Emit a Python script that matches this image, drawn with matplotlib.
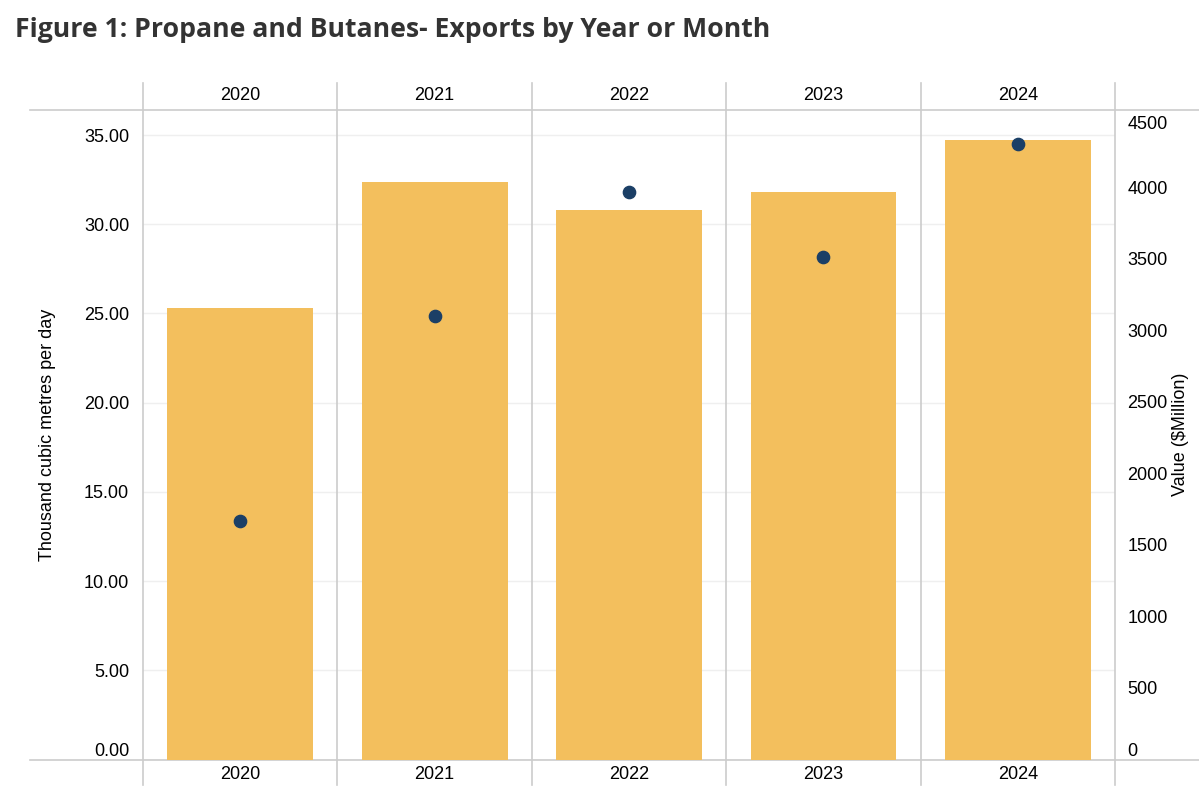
import matplotlib.pyplot as plt
from matplotlib.transforms import blended_transform_factory

# Data
years = ['2020', '2021', '2022', '2023', '2024']
volume = [25.32, 32.39, 30.82, 31.79, 34.72]      # thousand m3/day (bars)
value = [1670, 3104, 3966, 3514, 4306]            # $Million (dots)
left_ticks = [0, 5, 10, 15, 20, 25, 30, 35]
right_ticks = [0, 500, 1000, 1500, 2000, 2500, 3000, 3500, 4000, 4500]

bar_color = '#F3BF5D'
dot_color = '#1B3F66'
line_color = '#CCCCCC'

plt.rcParams['font.family'] = ['Liberation Sans', 'DejaVu Sans']

fig = plt.figure(figsize=(11.99, 7.96), dpi=100)
ax = fig.add_axes([143 / 1199, 1 - 759.5 / 796, 972 / 1199, 650 / 796])

x = list(range(len(years)))
ax.bar(x, volume, width=0.75, color=bar_color, zorder=2)
ax.set_xlim(-0.5, len(years) - 0.5)
ax.set_ylim(0, 36.43)
ax.set_yticks(left_ticks)
ax.set_yticklabels([f'{t:.2f}' for t in left_ticks])
ax.set_xticks([])
ax.tick_params(axis='y', length=0, pad=10, labelsize=13)
ax.grid(axis='y', color='#EFEFEF', linewidth=1, zorder=0)
ax.set_axisbelow(True)
for s in ax.spines.values():
    s.set_visible(False)
ax.set_ylabel('Thousand cubic metres per day', fontsize=13, labelpad=20)

ax2 = ax.twinx()
ax2.scatter(x, value, s=78, color=dot_color, zorder=3)
ax2.set_ylim(0, 4545)
ax2.set_yticks(right_ticks)
ax2.tick_params(axis='y', length=0, pad=9, labelsize=13)
for s in ax2.spines.values():
    s.set_visible(False)
ax2.set_ylabel('Value ($Million)', fontsize=13, labelpad=3)

# keep edge labels inside the plot like the original
fig.canvas.draw()
ax.get_yticklabels()[0].set_va('bottom')
ax2.get_yticklabels()[0].set_va('bottom')
ax2.get_yticklabels()[-1].set_va('top')

# column dividers and header/footer rules
for b in [i - 0.5 for i in range(len(years) + 1)]:
    ax.axvline(b, ymin=-0.039, ymax=1.041, color=line_color, linewidth=1.2,
               clip_on=False, zorder=1)
for yy in [0, 1]:
    ax.axhline(yy * 36.43, xmin=-0.116, xmax=1.09, color=line_color,
               linewidth=1.2, clip_on=False, zorder=1)

trans = blended_transform_factory(ax.transData, ax.transAxes)
for i, yr in enumerate(years):
    ax.text(i, 1.0208, yr, transform=trans, ha='center', va='center', fontsize=13)
    ax.text(i, -0.0238, yr, transform=trans, ha='center', va='center', fontsize=13)

fig.text(15 / 1199, 1 - 30 / 796, 'Figure 1: Propane and Butanes- Exports by Year or Month',
         fontsize=19.2, fontweight='bold', color='#333333', family='Open Sans',
         ha='left', va='center')

fig.savefig('out.png', dpi=100)
